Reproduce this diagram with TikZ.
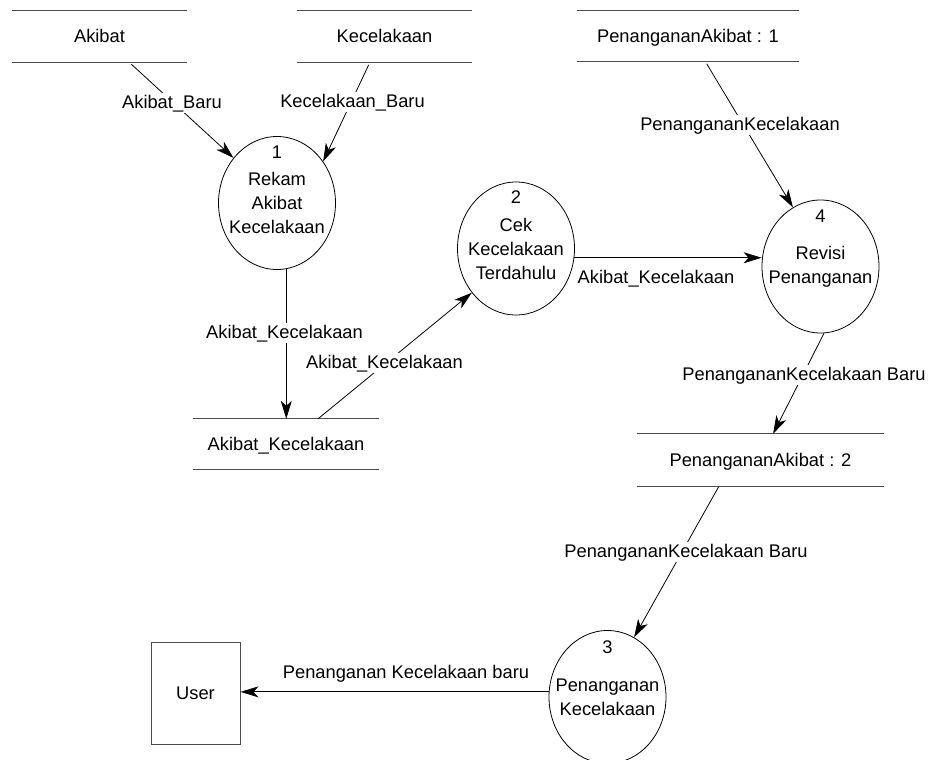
\documentclass[tikz,border=0pt]{standalone}
\usepackage{fontspec}
\setmainfont{Liberation Sans}
\usetikzlibrary{shapes.geometric,arrows.meta,calc}
\begin{document}
\begin{tikzpicture}[x=1pt,y=-1pt,
  every node/.style={font=\fontsize{18.3}{24}\selectfont},
  store/.style={rectangle, inner sep=0pt, text height=13pt, text depth=0pt},
  storeline/.style={draw=black!70, line width=1pt},
  process/.style={ellipse, draw, line width=0.8pt, minimum width=117pt, minimum height=133pt, inner sep=0pt},
  ptext/.style={align=center, inner sep=0pt},
  pnum/.style={anchor=base, inner sep=0pt},
  flow/.style={draw, line width=0.8pt, -{Stealth[length=18pt,width=11pt,inset=5pt]}},
  lbl/.style={fill=white, inner sep=1.5pt, anchor=base},
  entity/.style={draw=black!70, line width=1pt, minimum width=89pt, minimum height=102pt, text height=13pt, text depth=0pt}]
\useasboundingbox (0,0) rectangle (932,760);

% data stores
\node[store, minimum width=175pt, minimum height=51pt] (sA) at (99.5,36.5) {Akibat};
\node[store, minimum width=175pt, minimum height=51pt] (sK) at (384.5,36.5) {Kecelakaan};
\node[store, minimum width=222pt, minimum height=50pt] (sP1) at (688,36) {PenangananAkibat : 1};
\node[store, minimum width=186pt, minimum height=50pt] (sAK) at (286,444) {Akibat\_Kecelakaan};
\node[store, minimum width=247pt, minimum height=52pt] (sP2) at (760.5,460) {PenangananAkibat : 2};
\foreach \s in {sA,sK,sP1,sAK,sP2}
  \draw[storeline] (\s.north west) -- (\s.north east) (\s.south west) -- (\s.south east);

% processes
\node[process] (c1) at (277,203) {};
\node[ptext] (c1t) at (c1.center) {Rekam\\Akibat\\Kecelakaan};
\node[pnum] (c1n) at ([yshift=-22.5pt]c1.north) {1};

\node[process] (c2) at (516,248.5) {};
\node[ptext] (c2t) at (c2.center) {Cek\\Kecelakaan\\Terdahulu};
\node[pnum] (c2n) at ([yshift=-22pt]c2.north) {2};

\node[process] (c4) at (820.5,266.5) {};
\node[ptext] (c4t) at (c4.center) {Revisi\\Penanganan};
\node[pnum] (c4n) at ([yshift=-23pt]c4.north) {4};

\node[process] (c3) at (607.5,697) {};
\node[ptext] (c3t) at (c3.center) {Penanganan\\Kecelakaan};
\node[pnum] (c3n) at ([yshift=-23pt]c3.north) {3};

% external entity
\node[entity] (user) at (195.5,693) {User};

% flows
\draw[flow, shorten <=3pt] ($(sA.south west)!0.669!(sA.south east)$) -- (c1.134);
\draw[flow, shorten <=3pt] ($(sK.south west)!0.417!(sK.south east)$) -- (c1.42);
\draw[flow] (c1.-82) -- (c1.-82 |- sAK.north);
\draw[flow] ($(sAK.north west)!0.672!(sAK.north east)$) -- (c2.225);
\draw[flow] (c2.-9) -- (c2.-9 -| c4.west);
\draw[flow, shorten <=3pt] ($(sP1.south west)!0.577!(sP1.south east)$) -- (c4.115);
\draw[flow] (c4.-87) -- ($(sP2.north west)!0.551!(sP2.north east)$);
\draw[flow, shorten <=1pt] ($(sP2.south west)!0.332!(sP2.south east)$) -- (c3.66);
\draw[flow] (c3.175) -- (c3.175 -| user.east);

% flow labels
\node[lbl] (l1) at (172,108) {Akibat\_Baru};
\node[lbl] (l2) at (352.5,107) {Kecelakaan\_Baru};
\node[lbl] (l3) at (284.5,338) {Akibat\_Kecelakaan};
\node[lbl] (l4) at (384.5,368) {Akibat\_Kecelakaan};
\node[lbl] (l5) at (656,283) {Akibat\_Kecelakaan};
\node[lbl] (l6) at (740,130) {PenangananKecelakaan};
\node[lbl] (l7) at (804,380) {PenangananKecelakaan Baru};
\node[lbl] (l8) at (686,557) {PenangananKecelakaan Baru};
\node[lbl] (l9) at (406,678) {Penanganan Kecelakaan baru};
\end{tikzpicture}
\end{document}
